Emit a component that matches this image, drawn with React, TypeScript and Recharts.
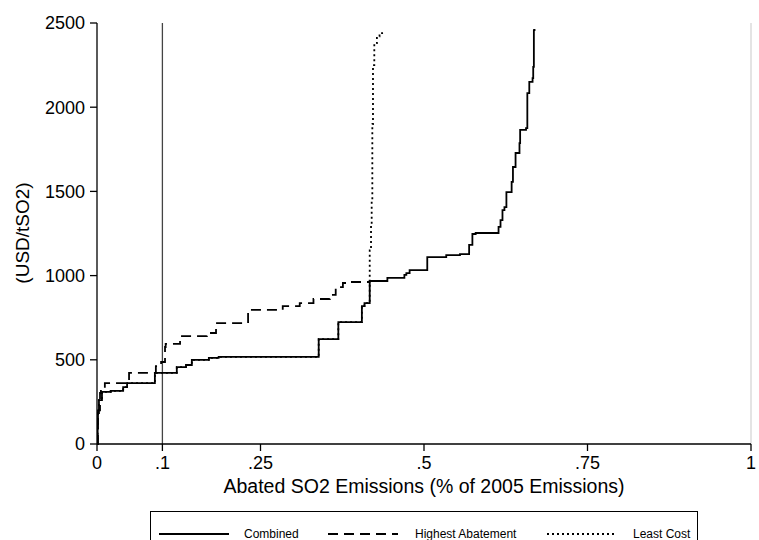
import { Line, LineChart, ReferenceLine, XAxis, YAxis } from "recharts";

const FONT = "'Liberation Sans', Arial, sans-serif";

// Combined curve (step starts), x = share of 2005 emissions abated, y = USD/tSO2
const combinedX = [
  0, 0.001, 0.0015, 0.003, 0.0076, 0.021, 0.04, 0.046, 0.0885, 0.122, 0.136, 0.145, 0.171, 0.186,
  0.339, 0.369, 0.405, 0.409, 0.417, 0.444, 0.47, 0.473, 0.478, 0.505, 0.534, 0.555, 0.569, 0.574,
  0.579, 0.614, 0.617, 0.62, 0.623, 0.626, 0.634, 0.636, 0.64, 0.646, 0.647, 0.656, 0.658, 0.661,
  0.666, 0.667, 0.668, 0.669,
];
const combinedY = [
  0, 120, 184, 261, 309, 315, 338, 362, 422, 457, 469, 499, 511, 517, 623, 724, 819, 837, 968, 986,
  1004, 1015, 1033, 1110, 1122, 1128, 1182, 1247, 1253, 1289, 1330, 1389, 1407, 1496, 1556, 1645,
  1728, 1787, 1865, 1876, 2084, 2150, 2173, 2239, 2458, 2464,
];

const highestX = [
  0, 0.0015, 0.0046, 0.006, 0.012, 0.049, 0.09, 0.098, 0.104, 0.105, 0.127, 0.168, 0.182, 0.231,
  0.284, 0.31, 0.331, 0.356, 0.365, 0.376, 0.386, 0.418,
];
const highestY = [
  0, 200, 303, 333, 362, 422, 463, 487, 576, 594, 641, 659, 718, 796, 819, 837, 861, 885, 932, 956,
  962, 962,
];

// Least cost follows the combined curve up to ~0.41, then shoots up
const leastTailX = [0.417, 0.419, 0.42, 0.421, 0.422, 0.424, 0.428, 0.432, 0.436];
const leastTailY = [1150, 1300, 1450, 1900, 2250, 2380, 2420, 2440, 2450];

const xTicks = [0, 0.1, 0.25, 0.5, 0.75, 1];
const xTickLabels = ["0", ".1", ".25", ".5", ".75", "1"];
const yTicks = [0, 500, 1000, 1500, 2000, 2500];

const combined = combinedX.map((x, i) => ({ x, y: combinedY[i] }));
const highest = highestX.map((x, i) => ({ x, y: highestY[i] }));
const cut = combinedX.indexOf(0.409) + 1;
const least = [
  ...combined.slice(0, cut),
  ...leastTailX.map((x, i) => ({ x, y: leastTailY[i] })),
];

function YTitle() {
  return (
    <text
      x={22}
      y={233}
      transform="rotate(-90 22 233)"
      textAnchor="middle"
      dominantBaseline="central"
      fontSize={19}
      fontFamily={FONT}
      fill="#000"
    >
      (USD/tSO2)
    </text>
  );
}

function XTitle() {
  return (
    <text
      x={424}
      y={486}
      textAnchor="middle"
      dominantBaseline="central"
      fontSize={19.5}
      fontFamily={FONT}
      fill="#000"
    >
      Abated SO2 Emissions (% of 2005 Emissions)
    </text>
  );
}

function Sample({ dash }: { dash?: string }) {
  return (
    <svg width={70} height={6} style={{ position: "absolute", top: 19 }}>
      <line x1={0} y1={3} x2={70} y2={3} stroke="#000" strokeWidth={2} strokeDasharray={dash} />
    </svg>
  );
}

const legendText: React.CSSProperties = {
  position: "absolute",
  top: 14,
  fontSize: 12,
  fontFamily: FONT,
  lineHeight: "16px",
  whiteSpace: "nowrap",
};

export default function App() {
  return (
    <div
      style={{
        position: "absolute",
        left: 0,
        top: 0,
        width: 759,
        height: 540,
        overflow: "hidden",
        background: "#fff",
        fontFamily: FONT,
      }}
    >
      <LineChart width={759} height={540} margin={{ top: 23, right: 8, bottom: 66, left: 37 }}>
        <XAxis
          type="number"
          dataKey="x"
          domain={[0, 1]}
          ticks={xTicks}
          tickFormatter={(v: number) => xTickLabels[xTicks.indexOf(v)] ?? String(v)}
          allowDataOverflow
          height={30}
          tickSize={7}
          tickMargin={5}
          stroke="#000"
          strokeWidth={1.3}
          tick={{ fill: "#000", fontSize: 18, fontFamily: FONT }}
          interval={0}
          label={<XTitle />}
        />
        <YAxis
          type="number"
          domain={[0, 2500]}
          ticks={yTicks}
          width={60}
          tickSize={7}
          tickMargin={5}
          stroke="#000"
          strokeWidth={1.3}
          tick={{ fill: "#000", fontSize: 18, fontFamily: FONT }}
          interval={0}
          label={<YTitle />}
        />
        <ReferenceLine x={1} stroke="#d6d6d6" strokeWidth={1.3} />
        <ReferenceLine x={0.1} stroke="#444" strokeWidth={1.3} />
        <Line
          data={least}
          dataKey="y"
          type="stepAfter"
          stroke="#000"
          strokeWidth={1.8}
          strokeDasharray="2 3"
          dot={false}
          isAnimationActive={false}
        />
        <Line
          data={highest}
          dataKey="y"
          type="stepAfter"
          stroke="#000"
          strokeWidth={1.8}
          strokeDasharray="10 6"
          dot={false}
          isAnimationActive={false}
        />
        <Line
          data={combined}
          dataKey="y"
          type="stepAfter"
          stroke="#000"
          strokeWidth={1.8}
          dot={false}
          isAnimationActive={false}
        />
      </LineChart>
      <div
        style={{
          position: "absolute",
          left: 150,
          top: 511,
          width: 548,
          height: 44,
          border: "1px solid #000",
          boxSizing: "border-box",
          background: "#fff",
        }}
      >
        <div style={{ position: "absolute", left: 8 }}>
          <Sample />
        </div>
        <span style={{ ...legendText, left: 93 }}>Combined</span>
        <div style={{ position: "absolute", left: 177 }}>
          <Sample dash="10 6" />
        </div>
        <span style={{ ...legendText, left: 264 }}>Highest Abatement</span>
        <div style={{ position: "absolute", left: 396 }}>
          <Sample dash="2 3" />
        </div>
        <span style={{ ...legendText, left: 482 }}>Least Cost</span>
      </div>
    </div>
  );
}
